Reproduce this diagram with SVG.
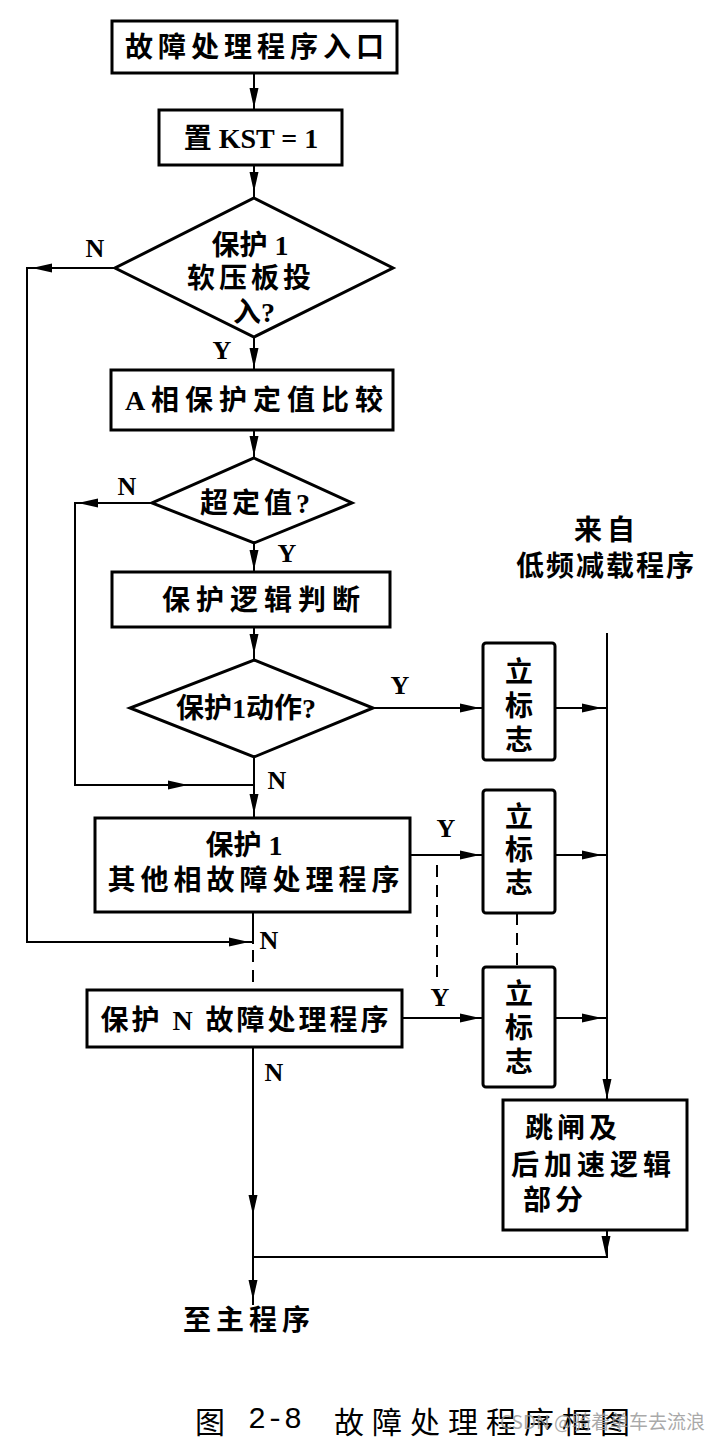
<svg xmlns="http://www.w3.org/2000/svg" xmlns:xlink="http://www.w3.org/1999/xlink" width="720" height="1441" viewBox="0 0 720 1441">
  <style>
    .box { fill: #fff; stroke: #000; stroke-width: 3; }
    .dia { fill: #fff; stroke: #000; stroke-width: 3; stroke-linejoin: miter; }
    .ln { fill: none; stroke: #000; stroke-width: 2; }
    .dash { fill: none; stroke: #000; stroke-width: 2; stroke-dasharray: 12 8; }
    .t { font-family: "Liberation Serif", "Noto Sans CJK SC", serif; font-weight: 700; font-size: 28px; fill: #000; text-anchor: middle; dominant-baseline: central; }
    .lab { font-family: "Liberation Serif", serif; font-weight: 700; font-size: 26px; fill: #000; text-anchor: middle; dominant-baseline: central; }
    .cap { font-family: "Noto Sans CJK SC", serif; font-weight: 400; font-size: 30px; fill: #000; dominant-baseline: central; }
    .wm { font-family: "Noto Sans CJK SC", "Liberation Sans", sans-serif; font-size: 19px; fill: #9a9a9a; fill-opacity: 0.85; dominant-baseline: central; }
  </style>
  <defs>
    <!-- narrow filled arrowhead, tip at origin, pointing down -->
    <path id="arr" d="M0,0 L-4.5,-20 L4.5,-20 Z" fill="#000"/>
  </defs>
  <rect width="720" height="1441" fill="#fff"/>

  <!-- connectors -->
  <g id="connectors">
    <path class="ln" d="M254,73 V110"/>
    <path class="ln" d="M254,165 V198"/>
    <path class="ln" d="M254,337 V370"/>
    <path class="ln" d="M115,268 H27 V942 H253"/>
    <path class="ln" d="M254,430 V458"/>
    <path class="ln" d="M152,503 H75 V785 H253"/>
    <path class="ln" d="M254,543 V572"/>
    <path class="ln" d="M254,627 V660"/>
    <path class="ln" d="M254,757 V818"/>
    <path class="ln" d="M373,708 H483"/>
    <path class="ln" d="M555,708 H607"/>
    <path class="ln" d="M410,855 H483"/>
    <path class="ln" d="M555,855 H607"/>
    <path class="ln" d="M402,1018 H483"/>
    <path class="ln" d="M555,1018 H607"/>
    <path class="ln" d="M607,633 V1100"/>
    <path class="ln" d="M253,912 V944"/>
    <path class="dash" d="M253,950 V990"/>
    <path class="dash" d="M517,913 V967"/>
    <path class="dash" d="M437,865 V985"/>
    <path class="ln" d="M253,1047 V1305"/>
    <path class="ln" d="M607,1230 V1257 H253"/>

    <use xlink:href="#arr" transform="translate(254,108)"/>
    <use xlink:href="#arr" transform="translate(254,192)"/>
    <use xlink:href="#arr" transform="translate(254,368)"/>
    <use xlink:href="#arr" transform="translate(32,268) rotate(90)"/>
    <use xlink:href="#arr" transform="translate(249,942) rotate(-90)"/>
    <use xlink:href="#arr" transform="translate(254,456)"/>
    <use xlink:href="#arr" transform="translate(78,503) rotate(90)"/>
    <use xlink:href="#arr" transform="translate(254,570)"/>
    <use xlink:href="#arr" transform="translate(254,654)"/>
    <use xlink:href="#arr" transform="translate(188,785) rotate(-90)"/>
    <use xlink:href="#arr" transform="translate(254,814)"/>
    <use xlink:href="#arr" transform="translate(480,708) rotate(-90)"/>
    <use xlink:href="#arr" transform="translate(602,708) rotate(-90)"/>
    <use xlink:href="#arr" transform="translate(480,855) rotate(-90)"/>
    <use xlink:href="#arr" transform="translate(602,855) rotate(-90)"/>
    <use xlink:href="#arr" transform="translate(480,1018) rotate(-90)"/>
    <use xlink:href="#arr" transform="translate(602,1018) rotate(-90)"/>
    <use xlink:href="#arr" transform="translate(607,1099)"/>
    <use xlink:href="#arr" transform="translate(606,1256)"/>
    <use xlink:href="#arr" transform="translate(253,1215)"/>
    <use xlink:href="#arr" transform="translate(253,1300)"/>

    <text class="lab" x="95" y="248">N</text>
    <text class="lab" x="222" y="350">Y</text>
    <text class="lab" x="127" y="486">N</text>
    <text class="lab" x="287" y="553">Y</text>
    <text class="lab" x="400" y="685">Y</text>
    <text class="lab" x="277" y="780">N</text>
    <text class="lab" x="446" y="828">Y</text>
    <text class="lab" x="269" y="940">N</text>
    <text class="lab" x="440" y="997">Y</text>
    <text class="lab" x="274" y="1072">N</text>
  </g>

  <g id="entry">
    <rect class="box" x="112" y="21" width="285" height="52"/>
    <text class="t" x="257" y="47" letter-spacing="5">故障处理程序入口</text>
  </g>
  <g id="set-kst">
    <rect class="box" x="159" y="110" width="183" height="55"/>
    <text class="t" x="251" y="138">置 KST = 1</text>
  </g>
  <g id="plate-check">
    <polygon class="dia" points="254,198 393,268 254,337 115,268"/>
    <text class="t" x="250" y="245">保护 1</text>
    <text class="t" x="251" y="278" letter-spacing="4">软压板投</text>
    <text class="t" x="254" y="312">入?</text>
  </g>
  <g id="phase-a">
    <rect class="box" x="111" y="370" width="282" height="60"/>
    <text class="t" x="257" y="400" letter-spacing="6">A相保护定值比较</text>
  </g>
  <g id="over-setting">
    <polygon class="dia" points="254,458 352,503 254,543 152,503"/>
    <text class="t" x="257" y="503" letter-spacing="4">超定值?</text>
  </g>
  <g id="logic">
    <rect class="box" x="112" y="572" width="278" height="55"/>
    <text class="t" x="264" y="600" letter-spacing="6">保护逻辑判断</text>
  </g>
  <g id="trip-check">
    <polygon class="dia" points="254,660 373,708 254,757 130,708"/>
    <text class="t" x="246" y="708">保护1动作?</text>
  </g>
  <g id="other-phases">
    <rect class="box" x="95" y="818" width="315" height="94"/>
    <text class="t" x="244" y="845">保护 1</text>
    <text class="t" x="256" y="880" letter-spacing="5">其他相故障处理程序</text>
  </g>
  <g id="prot-n">
    <rect class="box" x="87" y="990" width="315" height="57"/>
    <text class="t" x="246" y="1020" letter-spacing="3">保护 N 故障处理程序</text>
  </g>
  <g id="flag-1">
    <rect class="box" x="483" y="643" width="72" height="117" rx="3"/>
    <text class="t" x="519" y="672">立</text>
    <text class="t" x="519" y="706">标</text>
    <text class="t" x="519" y="740">志</text>
  </g>
  <g id="flag-2">
    <rect class="box" x="483" y="790" width="72" height="123" rx="3"/>
    <text class="t" x="519" y="817">立</text>
    <text class="t" x="519" y="850">标</text>
    <text class="t" x="519" y="883">志</text>
  </g>
  <g id="flag-3">
    <rect class="box" x="483" y="967" width="72" height="120" rx="3"/>
    <text class="t" x="519" y="994">立</text>
    <text class="t" x="519" y="1028">标</text>
    <text class="t" x="519" y="1062">志</text>
  </g>
  <g id="ufls">
    <text class="t" x="607" y="530" letter-spacing="5">来自</text>
    <text class="t" x="606" y="566" letter-spacing="2">低频减载程序</text>
  </g>
  <g id="trip-logic">
    <rect class="box" x="503" y="1100" width="184" height="130"/>
    <text class="t" x="525" y="1128" style="text-anchor:start" letter-spacing="4">跳闸及</text>
    <text class="t" x="511" y="1165" style="text-anchor:start" letter-spacing="5">后加速逻辑</text>
    <text class="t" x="523" y="1200" style="text-anchor:start" letter-spacing="4">部分</text>
  </g>
  <g id="to-main">
    <text class="t" x="249" y="1320" letter-spacing="5">至主程序</text>
  </g>

  <g id="caption">
    <text class="cap" x="195" y="1420">图</text>
    <text class="cap" x="248" y="1420" style="font-family:'Liberation Mono',monospace">2-8</text>
    <text class="cap" x="334" y="1420" letter-spacing="8">故障处理程序框图</text>
    <text class="wm" x="500" y="1420">CSDN @骑着单车去流浪</text>
  </g>
</svg>
